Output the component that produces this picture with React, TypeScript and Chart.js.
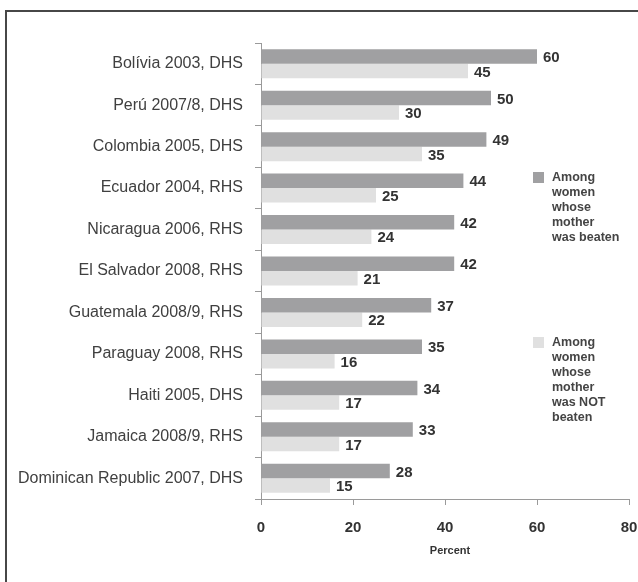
import { useEffect, useRef } from 'react';
import { Chart, registerables, Plugin } from 'chart.js';

Chart.register(...registerables);

const categories = [
  'Bolívia 2003, DHS',
  'Perú 2007/8, DHS',
  'Colombia 2005, DHS',
  'Ecuador 2004, RHS',
  'Nicaragua 2006, RHS',
  'El Salvador 2008, RHS',
  'Guatemala 2008/9, RHS',
  'Paraguay 2008, RHS',
  'Haiti 2005, DHS',
  'Jamaica 2008/9, RHS',
  'Dominican Republic 2007, DHS',
];
const motherBeaten = [60, 50, 49, 44, 42, 42, 37, 35, 34, 33, 28];
const motherNotBeaten = [45, 30, 35, 25, 24, 21, 22, 16, 17, 17, 15];
const xTicks = [0, 20, 40, 60, 80];
const legendBeaten = ['Among', 'women', 'whose', 'mother', 'was beaten'];
const legendNotBeaten = ['Among', 'women', 'whose', 'mother', 'was NOT', 'beaten'];

const DARK = '#a0a0a2';
const LIGHT = '#e0e0e0';
const FONT = '"Liberation Sans", Arial, sans-serif';

// value labels, axis title and the side legend
const annotations: Plugin<'bar'> = {
  id: 'annotations',
  afterDatasetsDraw(chart) {
    const { ctx } = chart;
    ctx.save();
    ctx.fillStyle = '#333';
    ctx.font = `bold 15px ${FONT}`;
    ctx.textBaseline = 'middle';
    ctx.textAlign = 'left';
    chart.data.datasets.forEach((ds, di) => {
      chart.getDatasetMeta(di).data.forEach((bar: any, i) => {
        ctx.fillText(String(ds.data[i]), bar.x + 6, bar.y + 1.5);
      });
    });

    const x = chart.scales.x;
    ctx.font = `bold 11px ${FONT}`;
    ctx.textAlign = 'center';
    ctx.fillText('Percent', x.getPixelForValue(40) + 5, 551);

    const drawLegend = (lines: string[], color: string, top: number) => {
      ctx.fillStyle = color;
      ctx.fillRect(533, top, 11, 11);
      ctx.fillStyle = '#444';
      ctx.font = `bold 12.5px ${FONT}`;
      ctx.textAlign = 'left';
      lines.forEach((t, k) => ctx.fillText(t, 552, top + 6 + k * 15));
    };
    drawLegend(legendBeaten, DARK, 172);
    drawLegend(legendNotBeaten, LIGHT, 337);
    ctx.restore();
  },
};

export default function App() {
  const canvasRef = useRef<HTMLCanvasElement>(null);
  const chartRef = useRef<Chart | null>(null);

  useEffect(() => {
    if (!canvasRef.current) return;
    if (chartRef.current) chartRef.current.destroy();

    chartRef.current = new Chart(canvasRef.current, {
      type: 'bar',
      data: {
        labels: categories,
        datasets: [
          {
            label: 'Among women whose mother was beaten',
            data: motherBeaten,
            backgroundColor: DARK,
            categoryPercentage: 0.7,
            barPercentage: 1,
          },
          {
            label: 'Among women whose mother was NOT beaten',
            data: motherNotBeaten,
            backgroundColor: LIGHT,
            categoryPercentage: 0.7,
            barPercentage: 1,
          },
        ],
      },
      options: {
        indexAxis: 'y',
        animation: false,
        responsive: false,
        layout: { padding: { top: 43, right: 9, left: 0, bottom: 0 } },
        scales: {
          x: {
            min: 0,
            max: 80,
            afterBuildTicks: (scale) => {
              scale.ticks = xTicks.map((v) => ({ value: v }));
            },
            afterFit: (scale: any) => {
              scale.height = 83;
              scale.paddingLeft = 0;
              scale.paddingRight = 0;
            },
            grid: { drawOnChartArea: false, tickLength: 6, color: '#9a9a9a' },
            border: { color: '#9a9a9a', width: 1 },
            ticks: {
              color: '#333',
              padding: 14,
              font: { family: FONT, size: 15, weight: 'bold' },
            },
          },
          y: {
            afterFit: (scale) => {
              scale.width = 261;
            },
            grid: { drawOnChartArea: false, tickLength: 6, offset: true, color: '#9a9a9a' },
            border: { color: '#9a9a9a', width: 1 },
            ticks: {
              color: '#404040',
              padding: 12,
              font: { family: FONT, size: 16 },
            },
          },
        },
        plugins: {
          legend: { display: false },
          tooltip: { enabled: false },
        },
      },
      plugins: [annotations],
    });

    return () => {
      if (chartRef.current) {
        chartRef.current.destroy();
        chartRef.current = null;
      }
    };
  }, []);

  return (
    <div
      style={{
        position: 'absolute',
        left: 0,
        top: 0,
        width: 638,
        height: 582,
        overflow: 'hidden',
        background: '#fff',
      }}
    >
      <div
        style={{
          position: 'absolute',
          left: 5,
          top: 10,
          width: 700,
          height: 700,
          border: '2px solid #474747',
        }}
      />
      <canvas ref={canvasRef} width={638} height={582} style={{ position: 'absolute', left: 0, top: 0 }} />
    </div>
  );
}
